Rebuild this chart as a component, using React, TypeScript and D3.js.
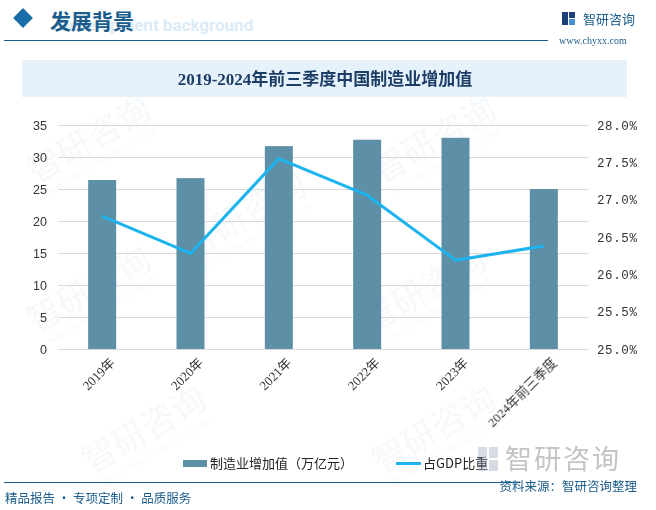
import React, { useRef, useEffect } from 'react';
import * as d3 from 'd3';

// 数据
const categories = ['2019年', '2020年', '2021年', '2022年', '2023年', '2024年前三季度'];
const addedValue = [26.4, 26.7, 31.7, 32.7, 33.0, 25.0]; // 万亿元
const gdpShare = [26.78, 26.28, 27.55, 27.06, 26.19, 26.38]; // %
const leftTicks = [0, 5, 10, 15, 20, 25, 30, 35];
const rightTicks = [25.0, 25.5, 26.0, 26.5, 27.0, 27.5, 28.0];
const legendLabels = ['制造业增加值（万亿元）', '占GDP比重'];

const W = 656;
const H = 510;
const BAR = '#5d8fa7';
const LINE = '#1db3ee';
const NAVY = '#1a5c8c';

export default function App() {
  const svgRef = useRef<SVGSVGElement>(null);

  useEffect(() => {
    const svg = d3.select(svgRef.current);
    svg.selectAll('*').remove();

    svg.append('rect').attr('width', W).attr('height', H).attr('fill', '#fff');

    // watermarks
    const wm = svg.append('g').attr('opacity', 0.4);
    [[95, 150], [95, 300], [440, 150], [430, 300], [150, 440], [440, 440], [250, 225]].forEach(([x, y]) => {
      const g = wm.append('g').attr('transform', `translate(${x},${y}) rotate(-30)`);
      g.append('text').text('智研咨询').attr('font-size', 34)
        .attr('font-family', '"Noto Sans CJK SC"').attr('fill', '#e8edf2').attr('text-anchor', 'middle');
      g.append('text').text('INTELLIGENCE RESEARCH GROUP').attr('y', 16).attr('font-size', 8)
        .attr('font-family', 'Roboto').attr('fill', '#e8edf2').attr('text-anchor', 'middle');
    });

    // header
    svg.append('rect').attr('x', 16).attr('y', 11).attr('width', 14).attr('height', 14)
      .attr('fill', '#1a6ea8').attr('transform', 'rotate(45 23 18)');
    svg.append('text').text('Development background').attr('x', 58).attr('y', 31)
      .attr('font-size', 17).attr('font-weight', 'bold').attr('font-family', 'Roboto, sans-serif')
      .attr('fill', '#dcebf6');
    svg.append('text').text('发展背景').attr('x', 50).attr('y', 29)
      .attr('font-size', 21).attr('font-weight', 'bold').attr('font-family', '"Noto Sans CJK SC"')
      .attr('fill', NAVY);
    svg.append('line').attr('x1', 4).attr('x2', 548).attr('y1', 40.5).attr('y2', 40.5)
      .attr('stroke', NAVY).attr('stroke-width', 1.2);

    // logo
    const logo = svg.append('g').attr('transform', 'translate(562,12)');
    logo.append('rect').attr('x', 0).attr('y', 0).attr('width', 6).attr('height', 13).attr('fill', '#1d3f7a');
    logo.append('rect').attr('x', 7).attr('y', 0).attr('width', 6).attr('height', 6).attr('fill', '#1d3f7a');
    logo.append('rect').attr('x', 7).attr('y', 7).attr('width', 6).attr('height', 6).attr('fill', '#4a8fd0');
    svg.append('text').text('智研咨询').attr('x', 583).attr('y', 24).attr('font-size', 13)
      .attr('font-family', '"Noto Sans CJK SC"').attr('fill', NAVY);
    svg.append('text').text('www.chyxx.com').attr('x', 559).attr('y', 44).attr('font-size', 10)
      .attr('font-family', '"Liberation Serif", serif').attr('fill', NAVY);

    // title box
    svg.append('rect').attr('x', 22).attr('y', 60).attr('width', 605).attr('height', 37).attr('fill', '#e6f2fb');
    svg.append('text').text('2019-2024年前三季度中国制造业增加值').attr('x', 325).attr('y', 85)
      .attr('text-anchor', 'middle').attr('font-size', 17).attr('font-weight', 'bold')
      .attr('font-family', '"Liberation Serif", "Noto Sans CJK SC", serif').attr('fill', '#1b3d66');

    // scales
    const x = d3.scaleBand<string>().domain(categories).range([58, 588]).paddingInner(0.683).paddingOuter(0.3415);
    const yL = d3.scaleLinear().domain([0, 35]).range([349, 125]);
    const yR = d3.scaleLinear().domain([25, 28]).range([349, 125]);

    // grid
    svg.append('g').selectAll('line').data(leftTicks).join('line')
      .attr('x1', 58).attr('x2', 588)
      .attr('y1', d => Math.round(yL(d)) + 0.5).attr('y2', d => Math.round(yL(d)) + 0.5)
      .attr('stroke', '#d9d9d9').attr('stroke-width', 1);

    // left axis labels
    svg.append('g').selectAll('text').data(leftTicks).join('text')
      .text(d => String(d)).attr('x', 47).attr('y', d => yL(d) + 4.5).attr('text-anchor', 'end')
      .attr('font-size', 12.5).attr('font-family', '"Liberation Sans", sans-serif').attr('fill', '#333');

    // right axis labels
    svg.append('g').selectAll('text').data(rightTicks).join('text')
      .text(d => d.toFixed(1) + '%').attr('x', 597).attr('y', d => yR(d) + 4.5)
      .attr('font-size', 12.5).attr('font-family', '"Liberation Mono", monospace').attr('fill', '#333')
      .attr('textLength', 40);

    // bars
    svg.append('g').selectAll('rect').data(addedValue).join('rect')
      .attr('x', (_, i) => x(categories[i])!).attr('width', x.bandwidth())
      .attr('y', d => yL(d)).attr('height', d => yL(0) - yL(d)).attr('fill', BAR);

    // line
    const ln = d3.line<number>()
      .x((_, i) => x(categories[i])! + x.bandwidth() / 2)
      .y(d => yR(d));
    svg.append('path').datum(gdpShare).attr('d', ln).attr('fill', 'none')
      .attr('stroke', LINE).attr('stroke-width', 3).attr('stroke-linejoin', 'round');

    // x labels
    svg.append('g').selectAll('text').data(categories).join('text')
      .text(d => d)
      .attr('transform', d => `translate(${x(d)! + x.bandwidth() / 2 + 7},${357}) rotate(-45)`)
      .attr('text-anchor', 'end').attr('dy', '0.7em')
      .attr('font-size', 13).attr('font-family', '"Liberation Serif", "Noto Sans CJK SC", serif')
      .attr('fill', '#333');

    // legend
    svg.append('rect').attr('x', 183).attr('y', 460).attr('width', 24).attr('height', 7).attr('fill', BAR);
    svg.append('text').text(legendLabels[0]).attr('x', 210).attr('y', 468).attr('font-size', 13)
      .attr('font-family', '"Noto Sans CJK SC"').attr('fill', '#222');
    svg.append('line').attr('x1', 396).attr('x2', 421).attr('y1', 463.5).attr('y2', 463.5)
      .attr('stroke', LINE).attr('stroke-width', 3);
    svg.append('text').text(legendLabels[1]).attr('x', 423).attr('y', 468).attr('font-size', 13)
      .attr('font-family', '"Noto Sans CJK SC"').attr('fill', '#222');

    // bottom watermark logo
    const bl = svg.append('g').attr('transform', 'translate(478,447)').attr('opacity', 0.35);
    bl.append('rect').attr('x', 0).attr('y', 0).attr('width', 9).attr('height', 24).attr('fill', '#8a9bb0');
    bl.append('rect').attr('x', 11).attr('y', 0).attr('width', 9).attr('height', 11).attr('fill', '#8a9bb0');
    bl.append('rect').attr('x', 11).attr('y', 13).attr('width', 9).attr('height', 11).attr('fill', '#8a9bb0');
    svg.append('text').text('智研咨询').attr('x', 505).attr('y', 469).attr('font-size', 27)
      .attr('font-family', '"Noto Sans CJK SC"').attr('fill', '#c4c4c4').attr('letter-spacing', 2);

    // footer
    svg.append('line').attr('x1', 4).attr('x2', 520).attr('y1', 482.5).attr('y2', 482.5)
      .attr('stroke', NAVY).attr('stroke-width', 1.2);
    svg.append('text').text('资料来源：智研咨询整理').attr('x', 637).attr('y', 491).attr('text-anchor', 'end')
      .attr('font-size', 12.5).attr('font-family', '"Noto Sans CJK SC"').attr('fill', NAVY);
    svg.append('text').text('精品报告 · 专项定制 · 品质服务').attr('x', 5).attr('y', 503)
      .attr('font-size', 12.5).attr('font-family', '"Noto Sans CJK SC"').attr('fill', NAVY);
  }, []);

  return (
    <svg ref={svgRef} width={W} height={H}
      style={{ position: 'absolute', left: 0, top: 0, display: 'block' }} />
  );
}
